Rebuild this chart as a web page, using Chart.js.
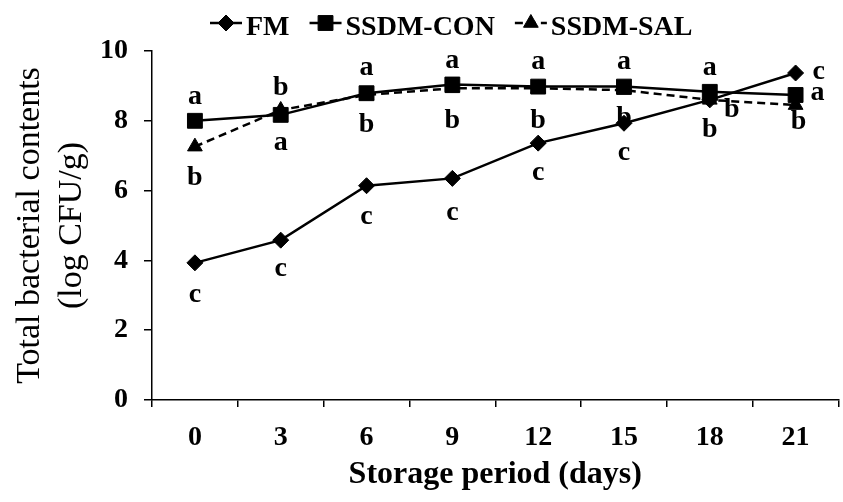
<!DOCTYPE html>
<html>
<head>
<meta charset="utf-8">
<script src="https://cdn.jsdelivr.net/npm/chart.js"></script>
<style>
  html, body { margin: 0; padding: 0; background: #fff; overflow: hidden; }
  #wrap { width: 850px; height: 502px; }
</style>
</head>
<body>
<div id="wrap"><canvas id="bacteriaChart" width="850" height="502"></canvas></div>
<script>
// data
const days = ['0', '3', '6', '9', '12', '15', '18', '21'];
const fmValues = [3.93, 4.58, 6.14, 6.35, 7.36, 7.93, 8.6, 9.37];
const conValues = [8.0, 8.17, 8.79, 9.04, 8.98, 8.98, 8.83, 8.74];
const salValues = [7.26, 8.31, 8.74, 8.93, 8.93, 8.88, 8.6, 8.45];

// significance letters
const fmLetters = ['c', 'c', 'c', 'c', 'c', 'c', 'b', 'c'];
const conLetters = ['a', 'a', 'a', 'a', 'a', 'a', 'a', 'a'];
const salLetters = ['b', 'b', 'b', 'b', 'b', 'b', 'b', 'b'];

const serif = "'Liberation Serif', 'Times New Roman', serif";

// where each letter sits relative to its point (px)
const letterOffsets = [
  [[0, 32], [0, 29], [0, 31], [0, 34], [0, 30], [0, 30], [22, 10], [23, -1]],
  [[0, -24], [0, 28], [0, -25], [0, -24], [0, -25], [0, -25], [0, -24], [22, -2]],
  [[0, 31], [0, -22], [0, 30], [0, 32], [0, 32], [0, 28], [0, 30], [3, 17]]
];
const letterSets = [fmLetters, conLetters, salLetters];

// 유의성 문자 표시
const letterPlugin = {
  id: 'letters',
  afterDatasetsDraw(chart) {
    const ctx = chart.ctx;
    ctx.save();
    ctx.fillStyle = '#000';
    ctx.font = 'bold 28px ' + serif;
    ctx.textAlign = 'center';
    ctx.textBaseline = 'middle';
    letterSets.forEach((letters, i) => {
      const meta = chart.getDatasetMeta(i);
      meta.data.forEach((pt, j) => {
        const off = letterOffsets[i][j];
        ctx.fillText(letters[j], pt.x + off[0], pt.y + off[1]);
      });
    });
    ctx.restore();
  }
};

// 범례 (선 + 마커)
const legendPlugin = {
  id: 'lineLegend',
  afterDraw(chart) {
    const ctx = chart.ctx;
    let x = 210;
    const yLine = 23;
    ctx.save();
    ctx.font = 'bold 28px ' + serif;
    ctx.textBaseline = 'alphabetic';
    ctx.textAlign = 'left';
    chart.data.datasets.forEach(ds => {
      ctx.save();
      ctx.strokeStyle = '#000';
      ctx.lineWidth = 2.5;
      ctx.setLineDash(ds.borderDash || []);
      ctx.beginPath();
      ctx.moveTo(x, yLine);
      ctx.lineTo(x + 32, yLine);
      ctx.stroke();
      ctx.restore();
      ctx.fillStyle = '#000';
      ctx.strokeStyle = '#000';
      Chart.helpers.drawPoint(ctx, {
        pointStyle: ds.pointStyle,
        radius: ds.pointRadius,
        borderWidth: 1
      }, x + 16, yLine);
      ctx.fillStyle = '#000';
      ctx.fillText(ds.label, x + 36, 35);
      x += 36 + ctx.measureText(ds.label).width + 20;
    });
    ctx.restore();
  }
};

const ctx = document.getElementById('bacteriaChart').getContext('2d');

new Chart(ctx, {
  type: 'line',
  data: {
    labels: days,
    datasets: [
      { label: 'FM', data: fmValues, borderColor: '#000', backgroundColor: '#000',
        borderWidth: 2.5, pointStyle: 'rectRot', pointRadius: 8, pointBorderWidth: 1, tension: 0 },
      { label: 'SSDM-CON', data: conValues, borderColor: '#000', backgroundColor: '#000',
        borderWidth: 2.5, pointStyle: 'rect', pointRadius: 10.5, pointBorderWidth: 1, tension: 0 },
      { label: 'SSDM-SAL', data: salValues, borderColor: '#000', backgroundColor: '#000',
        borderWidth: 2.5, borderDash: [8, 5], pointStyle: 'triangle', pointRadius: 8.5, pointBorderWidth: 1, tension: 0 }
    ]
  },
  options: {
    responsive: false,
    animation: false,
    devicePixelRatio: 1,
    layout: { padding: { top: 51, right: 2, left: 0, bottom: 0 } },
    plugins: {
      legend: { display: false },
      tooltip: { enabled: false }
    },
    scales: {
      x: {
        offset: true,
        afterFit(scale) { scale.height = 102; },
        grid: { display: true, drawOnChartArea: false, drawTicks: true, tickLength: 7, color: '#000', lineWidth: 1.5, offset: true },
        border: { display: true, color: '#000', width: 1.5 },
        ticks: { color: '#000', padding: 14, font: { family: serif, size: 28, weight: 'bold' } },
        title: {
          display: true,
          text: 'Storage period (days)',
          color: '#000',
          font: { family: serif, size: 32, weight: 'bold' },
          padding: { top: 1, bottom: 8 }
        }
      },
      y: {
        min: 0,
        max: 10,
        afterFit(scale) { scale.width = 152; },
        grid: { display: true, drawOnChartArea: false, drawTicks: true, tickLength: 8, color: '#000', lineWidth: 1.5 },
        border: { display: true, color: '#000', width: 1.5 },
        ticks: { stepSize: 2, color: '#000', padding: 16, font: { family: serif, size: 28, weight: 'bold' } },
        title: {
          display: true,
          text: ['Total bacterial contents', '(log CFU/g)'],
          color: '#000',
          font: { family: serif, size: 34, weight: 'normal', lineHeight: 1.24 },
          padding: { top: 9, bottom: 7 }
        }
      }
    }
  },
  plugins: [letterPlugin, legendPlugin]
});
</script>
</body>
</html>
